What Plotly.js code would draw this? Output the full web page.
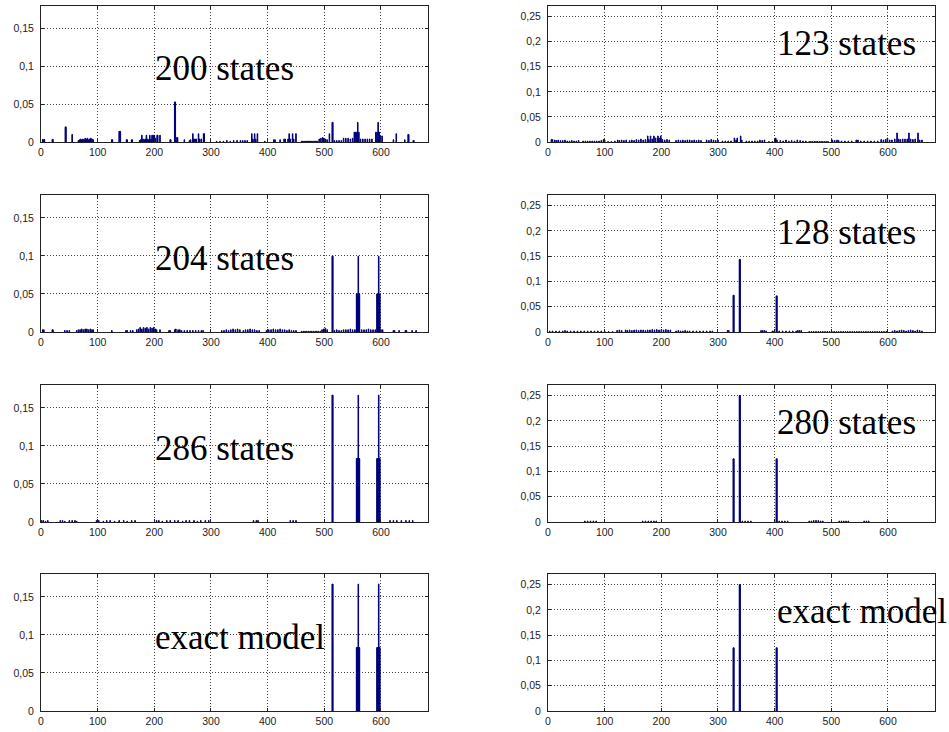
<!DOCTYPE html>
<html><head><meta charset="utf-8">
<script src="https://cdn.plot.ly/plotly-3.0.1.min.js"></script>
<style>html,body{margin:0;padding:0;background:#fff;}#chart{width:949px;height:732px;}</style>
</head><body><div id="chart"></div>
<script>
// state index, probability
const states200 = [[3,0.0035],[5,0.003],[6,0.0035],[20,0.0035],[21,0.0035],[43,0.02],[44,0.02],[55,0.01],[66,0.002],[68,0.003],[70,0.004],[72,0.003],[74,0.004],[76,0.003],[78,0.005],[80,0.004],[82,0.005],[84,0.003],[86,0.004],[88,0.005],[90,0.004],[92,0.003],[125,0.003],[126,0.003],[138,0.014],[139,0.014],[140,0.014],[151,0.003],[152,0.003],[160,0.003],[161,0.003],[174,0.002],[176,0.003],[178,0.009],[180,0.004],[182,0.003],[184,0.004],[186,0.009],[188,0.004],[190,0.003],[192,0.009],[194,0.004],[196,0.009],[198,0.009],[200,0.009],[202,0.005],[205,0.009],[206,0.009],[210,0.009],[228,0.003],[229,0.003],[236,0.053],[237,0.053],[240,0.006],[241,0.006],[253,0.003],[262,0.002],[264,0.003],[268,0.011],[270,0.004],[272,0.004],[274,0.004],[278,0.011],[280,0.004],[283,0.004],[287,0.011],[288,0.011],[310,0.001],[316,0.001],[322,0.001],[328,0.002],[334,0.001],[340,0.002],[346,0.002],[352,0.002],[356,0.002],[360,0.002],[364,0.002],[372,0.011],[374,0.004],[377,0.011],[379,0.004],[382,0.011],[395,0.001],[411,0.003],[413,0.003],[422,0.003],[429,0.004],[431,0.004],[436,0.004],[438,0.011],[440,0.004],[444,0.011],[446,0.004],[450,0.011],[460,0.001],[462,0.001],[464,0.001],[466,0.001],[468,0.001],[470,0.001],[472,0.001],[474,0.001],[476,0.001],[478,0.001],[480,0.001],[482,0.001],[484,0.001],[486,0.001],[488,0.001],[491,0.004],[494,0.005],[497,0.006],[499,0.005],[502,0.004],[505,0.003],[509,0.011],[514,0.026],[515,0.026],[518,0.002],[522,0.002],[526,0.002],[530,0.002],[534,0.005],[538,0.005],[542,0.005],[546,0.004],[550,0.005],[553,0.013],[555,0.013],[557,0.013],[559,0.026],[561,0.013],[564,0.004],[568,0.004],[572,0.004],[576,0.004],[580,0.004],[584,0.004],[591,0.013],[593,0.013],[595,0.026],[597,0.013],[599,0.008],[602,0.008],[622,0.003],[627,0.011],[642,0.003],[648,0.01],[649,0.01],[657,0.002],[658,0.002]];

const states123 = [[6,0.005],[8,0.005],[12,0.004],[15,0.003],[18,0.004],[22,0.003],[26,0.003],[30,0.004],[34,0.002],[38,0.002],[42,0.003],[46,0.002],[50,0.002],[54,0.003],[62,0.002],[66,0.002],[70,0.002],[74,0.002],[78,0.002],[82,0.002],[86,0.002],[90,0.002],[94,0.003],[98,0.005],[100,0.004],[106,0.001],[112,0.001],[118,0.002],[123,0.004],[126,0.003],[130,0.004],[134,0.003],[138,0.004],[144,0.003],[148,0.004],[152,0.003],[156,0.005],[160,0.004],[164,0.006],[168,0.004],[172,0.005],[176,0.012],[178,0.005],[181,0.012],[184,0.006],[187,0.012],[190,0.008],[194,0.012],[196,0.008],[199,0.012],[202,0.005],[206,0.004],[210,0.005],[214,0.004],[226,0.003],[230,0.004],[234,0.003],[238,0.004],[242,0.003],[246,0.004],[250,0.004],[254,0.003],[258,0.004],[262,0.003],[266,0.004],[270,0.003],[280,0.004],[284,0.003],[288,0.005],[292,0.004],[296,0.003],[300,0.004],[308,0.002],[313,0.002],[318,0.002],[323,0.002],[329,0.008],[332,0.004],[334,0.008],[340,0.012],[342,0.004],[350,0.002],[355,0.002],[360,0.002],[365,0.002],[370,0.002],[374,0.004],[378,0.003],[382,0.004],[390,0.001],[396,0.001],[402,0.008],[404,0.004],[410,0.003],[415,0.002],[420,0.004],[425,0.002],[430,0.003],[435,0.002],[440,0.004],[445,0.003],[450,0.002],[455,0.002],[461,0.001],[464,0.001],[467,0.001],[470,0.001],[473,0.001],[476,0.001],[479,0.001],[482,0.001],[485,0.001],[488,0.001],[491,0.001],[494,0.001],[502,0.004],[506,0.003],[510,0.004],[513,0.003],[518,0.002],[524,0.002],[530,0.002],[536,0.002],[544,0.004],[547,0.004],[552,0.002],[558,0.002],[564,0.002],[570,0.002],[576,0.002],[582,0.002],[588,0.005],[592,0.004],[596,0.005],[599,0.008],[603,0.004],[607,0.004],[612,0.006],[616,0.018],[619,0.006],[622,0.005],[626,0.006],[630,0.006],[634,0.006],[637,0.018],[640,0.006],[644,0.005],[648,0.006],[653,0.018],[656,0.004],[660,0.004]];

const states204 = [[3,0.003],[5,0.003],[20,0.003],[21,0.003],[42,0.002],[46,0.002],[50,0.002],[63,0.002],[66,0.003],[69,0.003],[72,0.004],[75,0.003],[78,0.004],[81,0.004],[84,0.003],[87,0.004],[90,0.003],[92,0.003],[125,0.002],[150,0.002],[152,0.002],[158,0.002],[162,0.002],[169,0.003],[172,0.004],[175,0.006],[178,0.004],[181,0.006],[184,0.005],[187,0.006],[190,0.004],[193,0.006],[196,0.005],[199,0.006],[202,0.004],[204,0.003],[210,0.003],[226,0.002],[228,0.002],[236,0.003],[238,0.004],[242,0.003],[245,0.003],[248,0.002],[253,0.002],[258,0.002],[263,0.002],[268,0.002],[273,0.002],[278,0.002],[283,0.002],[286,0.002],[319,0.002],[323,0.002],[327,0.003],[331,0.002],[335,0.003],[339,0.004],[343,0.003],[347,0.004],[351,0.003],[357,0.002],[361,0.003],[365,0.003],[369,0.004],[373,0.003],[377,0.003],[381,0.002],[385,0.002],[398,0.002],[402,0.003],[406,0.003],[410,0.004],[414,0.003],[418,0.003],[422,0.004],[426,0.003],[430,0.003],[434,0.002],[438,0.003],[442,0.002],[446,0.002],[450,0.002],[460,0.001],[463,0.001],[466,0.001],[469,0.001],[472,0.001],[475,0.001],[478,0.001],[481,0.001],[484,0.001],[487,0.001],[490,0.001],[493,0.001],[496,0.003],[499,0.004],[502,0.005],[505,0.003],[514,0.0996],[515,0.0996],[518,0.002],[522,0.003],[526,0.002],[530,0.002],[534,0.003],[538,0.003],[542,0.003],[546,0.004],[550,0.003],[554,0.003],[557,0.05],[558,0.05],[559,0.05],[560,0.0996],[561,0.05],[562,0.05],[566,0.003],[570,0.003],[574,0.003],[578,0.004],[582,0.003],[586,0.003],[590,0.003],[593,0.05],[594,0.05],[595,0.05],[596,0.0996],[597,0.05],[598,0.05],[600,0.003],[603,0.003],[622,0.002],[624,0.002],[632,0.002],[643,0.002],[645,0.002],[655,0.002],[662,0.002]];

const states128 = [[3,0.002],[8,0.002],[14,0.002],[20,0.002],[26,0.002],[30,0.003],[34,0.002],[40,0.002],[46,0.002],[52,0.002],[58,0.002],[64,0.002],[70,0.002],[76,0.002],[82,0.002],[88,0.002],[94,0.002],[100,0.002],[107,0.001],[114,0.001],[122,0.003],[126,0.004],[130,0.003],[137,0.004],[140,0.003],[144,0.004],[148,0.003],[152,0.004],[156,0.004],[160,0.003],[164,0.004],[168,0.004],[172,0.003],[176,0.004],[180,0.004],[184,0.005],[188,0.004],[192,0.005],[196,0.004],[200,0.005],[204,0.004],[208,0.005],[212,0.004],[216,0.004],[226,0.002],[230,0.003],[234,0.002],[238,0.002],[242,0.003],[246,0.002],[250,0.002],[256,0.002],[262,0.002],[268,0.002],[274,0.002],[280,0.002],[286,0.002],[290,0.002],[317,0.003],[319,0.003],[327,0.0727],[328,0.0727],[338,0.1435],[339,0.1435],[376,0.003],[379,0.003],[382,0.003],[385,0.002],[396,0.002],[399,0.002],[403,0.0714],[404,0.0714],[408,0.002],[414,0.002],[420,0.002],[426,0.002],[432,0.002],[438,0.002],[441,0.003],[444,0.003],[447,0.003],[461,0.001],[465,0.001],[469,0.001],[473,0.001],[477,0.001],[481,0.001],[485,0.001],[489,0.001],[493,0.001],[497,0.001],[501,0.001],[505,0.001],[509,0.001],[513,0.001],[517,0.001],[521,0.001],[525,0.001],[529,0.001],[533,0.001],[537,0.001],[541,0.001],[545,0.001],[549,0.001],[553,0.001],[557,0.001],[561,0.001],[565,0.001],[569,0.001],[573,0.001],[577,0.001],[581,0.001],[585,0.001],[589,0.001],[593,0.001],[597,0.001],[608,0.002],[612,0.003],[616,0.002],[620,0.003],[624,0.004],[628,0.003],[632,0.002],[636,0.003],[640,0.004],[644,0.003],[648,0.002],[652,0.004],[656,0.003],[660,0.002]];

const states286 = [[1,0.002],[4,0.002],[8,0.001],[12,0.002],[34,0.002],[38,0.002],[42,0.001],[50,0.002],[55,0.002],[60,0.002],[63,0.001],[98,0.002],[102,0.002],[110,0.001],[116,0.002],[122,0.002],[130,0.001],[138,0.002],[146,0.002],[152,0.001],[160,0.002],[166,0.002],[204,0.002],[208,0.002],[214,0.001],[222,0.002],[228,0.002],[236,0.002],[242,0.002],[250,0.001],[256,0.002],[262,0.002],[270,0.002],[276,0.001],[282,0.002],[290,0.002],[296,0.002],[375,0.002],[380,0.002],[383,0.002],[440,0.002],[445,0.002],[450,0.002],[514,0.1667],[515,0.1667],[557,0.0833],[558,0.0833],[559,0.0833],[560,0.1667],[561,0.0833],[562,0.0833],[593,0.0833],[594,0.0833],[595,0.0833],[596,0.1667],[597,0.0833],[598,0.0833],[616,0.002],[622,0.002],[628,0.002],[636,0.002],[644,0.002],[650,0.002],[656,0.002]];

const states280 = [[65,0.002],[70,0.002],[75,0.002],[80,0.002],[85,0.002],[167,0.002],[172,0.002],[177,0.002],[182,0.002],[187,0.002],[191,0.002],[327,0.125],[328,0.125],[338,0.25],[339,0.25],[343,0.002],[348,0.002],[353,0.002],[358,0.002],[403,0.125],[404,0.125],[408,0.002],[413,0.002],[418,0.002],[423,0.002],[461,0.002],[465,0.002],[469,0.003],[473,0.003],[477,0.003],[481,0.002],[485,0.002],[514,0.002],[518,0.002],[522,0.002],[526,0.002],[530,0.002],[558,0.002],[562,0.002],[566,0.002]];

const exactLeft = [[514,0.1667],[515,0.1667],[557,0.0833],[558,0.0833],[559,0.0833],[560,0.1667],[561,0.0833],[562,0.0833],[593,0.0833],[594,0.0833],[595,0.0833],[596,0.1667],[597,0.0833],[598,0.0833]];

const exactRight = [[327,0.125],[328,0.125],[338,0.25],[339,0.25],[403,0.125],[404,0.125]];

const panelData = [states200, states123, states204, states128, states286, states280, exactLeft, exactRight];
const panelLabels = ['200 states', '123 states', '204 states', '128 states', '286 states', '280 states', 'exact model', 'exact model'];
const xTicks = [0, 100, 200, 300, 400, 500, 600];
const yTicksLeft = [0, 0.05, 0.1, 0.15];
const yTicksRight = [0, 0.05, 0.1, 0.15, 0.2, 0.25];

const W = 949, H = 732;
const colPx = [[41, 428], [548, 935]];
const rowPx = [[6, 142], [195, 332], [385, 522], [574, 711]];
const yMax = [0.18, 0.271];

const traces = [];
const layout = {
  width: W, height: H,
  margin: {l: 0, r: 0, t: 0, b: 0},
  paper_bgcolor: '#fff', plot_bgcolor: '#fff',
  showlegend: false,
  separators: ', ',
  bargap: 0,
  font: {family: 'Liberation Sans, Arial, sans-serif', size: 10.5, color: '#222'},
  annotations: []
};

panelData.forEach((pairs, i) => {
  const col = i % 2, row = Math.floor(i / 2);
  const n = i + 1;
  const xa = 'x' + (n === 1 ? '' : n), ya = 'y' + (n === 1 ? '' : n);
  traces.push({
    type: 'bar',
    x: pairs.map(p => p[0]),
    y: pairs.map(p => p[1]),
    width: 1,
    xaxis: xa, yaxis: ya,
    marker: {color: '#1414a8', line: {color: '#00007c', width: 1}},
    hoverinfo: 'x+y'
  });
  const axCommon = {
    showline: true, linecolor: '#222', linewidth: 1, mirror: 'ticks',
    ticks: 'inside', ticklen: 3, tickcolor: '#222',
    showgrid: true, gridcolor: '#444', griddash: '1px,2px', gridwidth: 1,
    zeroline: false, fixedrange: true,
    tickfont: {family: 'Liberation Sans, Arial, sans-serif', size: 10.5, color: '#222'}
  };
  layout['xaxis' + (n === 1 ? '' : n)] = Object.assign({}, axCommon, {
    domain: [colPx[col][0] / W, colPx[col][1] / W],
    anchor: ya,
    range: [0, 683],
    tickmode: 'array', tickvals: xTicks
  });
  layout['yaxis' + (n === 1 ? '' : n)] = Object.assign({}, axCommon, {
    domain: [1 - rowPx[row][1] / H, 1 - rowPx[row][0] / H],
    anchor: xa,
    range: [0, yMax[col]],
    ticklabelstandoff: 4,
    tickmode: 'array', tickvals: col === 0 ? yTicksLeft : yTicksRight
  });
  layout.annotations.push({
    xref: xa, yref: ya,
    x: col === 0 ? 198 : 400,
    y: col === 0 ? 0.097 : 0.197,
    xanchor: 'left', yanchor: 'middle',
    text: panelLabels[i], showarrow: false,
    font: {family: 'Liberation Serif, Times New Roman, serif', size: 35, color: '#000'}
  });
});

Plotly.newPlot('chart', traces, layout, {displayModeBar: false, staticPlot: true});
</script>
</body></html>
